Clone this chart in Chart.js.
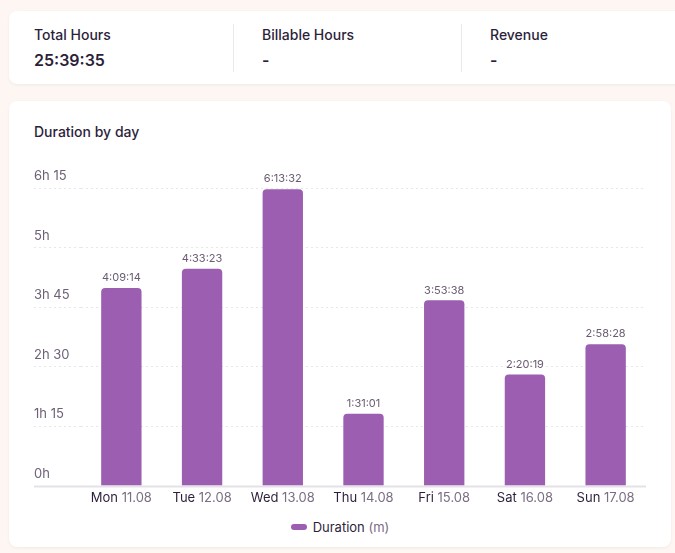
<!DOCTYPE html>
<html>
<head>
<meta charset="utf-8">
<script src="https://cdn.jsdelivr.net/npm/chart.js@4.4.0/dist/chart.umd.min.js"></script>
<style>
  html, body { margin: 0; padding: 0; }
  body {
    width: 675px; height: 553px; overflow: hidden; position: relative;
    background: #fdf6f3; font-family: Inter, "Noto Sans", sans-serif; color: #2d1f3b;
  }
  .card {
    position: absolute; background: #fff; border-radius: 8px;
    box-shadow: 0 1px 3px rgba(60, 30, 40, 0.06);
  }
  .stat-label { position: absolute; font-size: 14px; font-weight: 500; line-height: 17px; }
  .stat-value { position: absolute; font-size: 16px; font-weight: 600; line-height: 20px; }
  .divider { position: absolute; top: 13px; width: 1px; height: 48px; background: #ece8ea; }
  .title { position: absolute; left: 25px; top: 22px; font-size: 14px; font-weight: 500; line-height: 17px; }
  #chart-wrap { position: absolute; left: 25px; top: 59px; width: 612px; height: 350px; }
  #legend {
    position: absolute; left: 25px; top: 418px; width: 612px;
    display: flex; justify-content: center; align-items: center; font-size: 13px; line-height: 16px;
  }
  #legend .box { width: 16px; height: 6px; border-radius: 3px; margin-right: 6px; }
  #legend .unit { color: #7b6d83; }
</style>
</head>
<body>

<div class="card" style="left: 9px; top: 11px; width: 700px; height: 73px;">
  <div class="stat-label" style="left: 25px; top: 15px;">Total Hours</div>
  <div class="stat-value" style="left: 25px; top: 39px;">25:39:35</div>
  <div class="divider" style="left: 224px;"></div>
  <div class="stat-label" style="left: 253px; top: 15px;">Billable Hours</div>
  <div class="stat-value" style="left: 253px; top: 39px;">-</div>
  <div class="divider" style="left: 452px;"></div>
  <div class="stat-label" style="left: 481px; top: 15px;">Revenue</div>
  <div class="stat-value" style="left: 481px; top: 39px;">-</div>
</div>

<div class="card" style="left: 9px; top: 101px; width: 662px; height: 446px;">
  <div class="title">Duration by day</div>
  <div id="chart-wrap"><canvas id="duration-chart"></canvas></div>
  <div id="legend"></div>
</div>

<script>
// days of the week and dates shown on the x axis
const days = ['Mon', 'Tue', 'Wed', 'Thu', 'Fri', 'Sat', 'Sun'];
const dates = ['11.08', '12.08', '13.08', '14.08', '15.08', '16.08', '17.08'];

// tracked time per day, in seconds (4:09:14, 4:33:23, ...)
const durationSeconds = [14954, 16403, 22412, 5461, 14018, 8419, 10708];

// y axis ticks, in minutes
const yTicks = [0, 75, 150, 225, 300, 375];

const barColor = '#9b5eb1';
const gridColor = '#e9e5ec';
const darkText = '#2d1f3b';
const greyText = '#7b6d83';

const durationMinutes = durationSeconds.map(s => s / 60);

function pad(n) {
  return String(n).padStart(2, '0');
}

// seconds -> h:mm:ss
function formatDuration(sec) {
  const h = Math.floor(sec / 3600);
  const m = Math.floor((sec % 3600) / 60);
  const s = sec % 60;
  return h + ':' + pad(m) + ':' + pad(s);
}

// minutes -> "3h 45"
function formatTick(min) {
  const h = Math.floor(min / 60);
  const m = min % 60;
  return m ? h + 'h ' + m : h + 'h';
}

// draws the value above each bar
const barValues = {
  id: 'barValues',
  afterDatasetsDraw(chart) {
    const ctx = chart.ctx;
    const meta = chart.getDatasetMeta(0);
    ctx.save();
    ctx.font = '11px Inter, sans-serif';
    ctx.fillStyle = '#6a5b73';
    ctx.textAlign = 'center';
    ctx.textBaseline = 'middle';
    meta.data.forEach((bar, i) => {
      ctx.fillText(formatDuration(durationSeconds[i]), bar.x, bar.y - 10);
    });
    ctx.restore();
  }
};

// two-tone x labels ("Mon" dark, "11.08" grey) and the solid baseline
const axisExtras = {
  id: 'axisExtras',
  afterDraw(chart) {
    const ctx = chart.ctx;
    const x = chart.scales.x;
    const y = chart.scales.y;
    ctx.save();

    const base = Math.round(y.getPixelForValue(0)) + 0.5;
    ctx.strokeStyle = '#e6e1e8';
    ctx.lineWidth = 2;
    ctx.beginPath();
    ctx.moveTo(y.left, base);
    ctx.lineTo(chart.chartArea.right, base);
    ctx.stroke();

    ctx.font = '13px Inter, sans-serif';
    ctx.textBaseline = 'middle';
    ctx.textAlign = 'left';
    const ly = x.top + 12;
    days.forEach((day, i) => {
      const first = day + ' ';
      const w1 = ctx.measureText(first).width;
      const w2 = ctx.measureText(dates[i]).width;
      const cx = x.getPixelForTick(i);
      const left = cx - (w1 + w2) / 2;
      ctx.fillStyle = darkText;
      ctx.fillText(first, left, ly);
      ctx.fillStyle = greyText;
      ctx.fillText(dates[i], left + w1, ly);
    });
    ctx.restore();
  }
};

// legend as html so the unit can be grey
const htmlLegend = {
  id: 'htmlLegend',
  afterUpdate(chart) {
    const el = document.getElementById('legend');
    el.innerHTML = '';
    chart.data.datasets.forEach(ds => {
      const box = document.createElement('span');
      box.className = 'box';
      box.style.background = ds.backgroundColor;
      const idx = ds.label.indexOf('(');
      const name = document.createElement('span');
      name.textContent = idx > 0 ? ds.label.slice(0, idx) : ds.label;
      name.style.whiteSpace = 'pre';
      const unit = document.createElement('span');
      unit.className = 'unit';
      unit.textContent = idx > 0 ? ds.label.slice(idx) : '';
      el.append(box, name, unit);
    });
  }
};

const data = {
  labels: days.map((d, i) => d + ' ' + dates[i]),
  datasets: [{
    label: 'Duration (m)',
    data: durationMinutes,
    backgroundColor: barColor,
    borderRadius: 4,
    borderSkipped: 'bottom',
    barPercentage: 0.5,
    categoryPercentage: 1.0
  }]
};

const config = {
  type: 'bar',
  data: data,
  options: {
    responsive: true,
    maintainAspectRatio: false,
    animation: false,
    layout: { padding: { top: 28, bottom: 4, left: 0, right: 0 } },
    plugins: {
      legend: { display: false },
      tooltip: { enabled: false }
    },
    scales: {
      x: {
        grid: { display: false, drawTicks: false },
        border: { display: false },
        afterFit(scale) {
          scale.height = 20;
        },
        ticks: {
          color: 'rgba(0,0,0,0)',
          font: { family: 'Inter', size: 13 },
          padding: 4,
          maxRotation: 0,
          minRotation: 0,
          autoSkip: false
        }
      },
      y: {
        min: 0,
        max: 375,
        afterBuildTicks(scale) {
          scale.ticks = yTicks.map(v => ({ value: v }));
        },
        afterFit(scale) {
          scale.width = 47;
        },
        border: { display: false, dash: [2, 3] },
        grid: {
          color: c => (c.tick && c.tick.value === 0 ? 'rgba(0,0,0,0)' : gridColor),
          tickColor: c => (c.tick && c.tick.value === 0 ? 'rgba(0,0,0,0)' : gridColor),
          tickLength: 47,
          tickBorderDash: [2, 3],
          lineWidth: 1
        },
        ticks: {
          crossAlign: 'far',
          labelOffset: -12,
          padding: 0,
          color: '#6e6177',
          font: { family: 'Inter', size: 13 },
          callback: v => formatTick(v)
        }
      }
    }
  },
  plugins: [barValues, axisExtras, htmlLegend]
};

const ctx = document.getElementById('duration-chart').getContext('2d');
const durationChart = new Chart(ctx, config);
</script>
</body>
</html>
